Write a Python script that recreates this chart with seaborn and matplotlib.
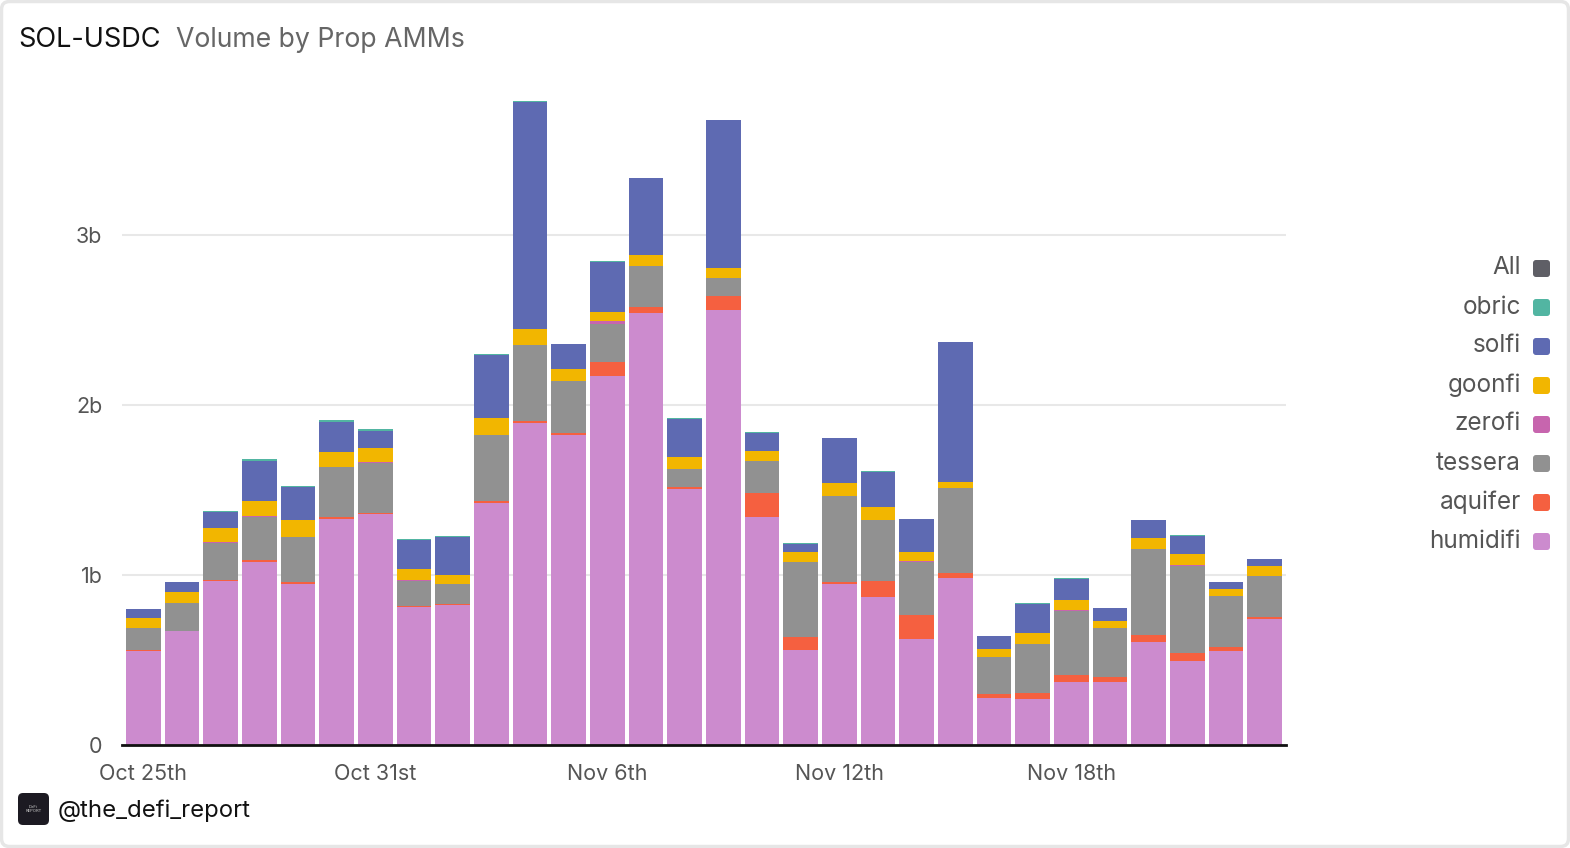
import matplotlib
matplotlib.use("Agg")
import matplotlib.pyplot as plt
import seaborn as sns
import pandas as pd
from matplotlib.patches import FancyBboxPatch

# daily volume, billions USD
days = pd.date_range("2025-10-25", periods=30).strftime("%b %d")

humidifi = [0.554, 0.668, 0.964, 1.079, 0.949, 1.329, 1.357, 0.809, 0.821, 1.423,
            1.893, 1.824, 2.168, 2.541, 1.505, 2.556, 1.344, 0.556, 0.948, 0.871,
            0.622, 0.982, 0.275, 0.269, 0.371, 0.373, 0.604, 0.492, 0.551, 0.739]
aquifer = [0.004, 0.003, 0.008, 0.010, 0.008, 0.013, 0.008, 0.007, 0.006, 0.013,
           0.010, 0.010, 0.087, 0.038, 0.015, 0.087, 0.141, 0.081, 0.009, 0.094,
           0.145, 0.030, 0.025, 0.037, 0.041, 0.029, 0.041, 0.047, 0.024, 0.016]
tessera = [0.131, 0.166, 0.219, 0.255, 0.267, 0.291, 0.296, 0.151, 0.122, 0.385,
           0.449, 0.309, 0.219, 0.240, 0.105, 0.104, 0.186, 0.438, 0.509, 0.359,
           0.309, 0.498, 0.218, 0.290, 0.376, 0.284, 0.506, 0.514, 0.301, 0.237]
zerofi = [0.001, 0.001, 0.001, 0.001, 0.001, 0.001, 0.001, 0.002, 0.001, 0.001,
          0.001, 0.001, 0.018, 0.001, 0.001, 0.001, 0.001, 0.001, 0.001, 0.001,
          0.004, 0.001, 0.001, 0.001, 0.004, 0.001, 0.001, 0.004, 0.001, 0.001]
goonfi = [0.056, 0.063, 0.085, 0.092, 0.097, 0.089, 0.084, 0.066, 0.048, 0.100,
          0.092, 0.066, 0.054, 0.064, 0.066, 0.059, 0.059, 0.062, 0.074, 0.076,
          0.057, 0.035, 0.047, 0.063, 0.063, 0.045, 0.067, 0.068, 0.038, 0.061]
solfi = [0.053, 0.057, 0.096, 0.235, 0.194, 0.176, 0.104, 0.171, 0.227, 0.372,
         1.339, 0.146, 0.296, 0.449, 0.227, 0.867, 0.107, 0.044, 0.263, 0.206,
         0.190, 0.822, 0.074, 0.170, 0.121, 0.071, 0.102, 0.104, 0.043, 0.041]
obric = [0.002, 0.002, 0.003, 0.008, 0.005, 0.013, 0.006, 0.003, 0.003, 0.008,
         0.005, 0.004, 0.004, 0.004, 0.004, 0.003, 0.004, 0.004, 0.004, 0.004,
         0.003, 0.004, 0.002, 0.003, 0.004, 0.002, 0.004, 0.004, 0.002, 0.002]

stack_order = ["humidifi", "aquifer", "tessera", "zerofi", "goonfi", "solfi", "obric"]
colors = {"All": "#5f5f66", "obric": "#52b5a2", "solfi": "#5e6ab2", "goonfi": "#f2b600",
          "zerofi": "#c765ae", "tessera": "#919191", "aquifer": "#f56040",
          "humidifi": "#cc8bce"}
legend_order = ["All", "obric", "solfi", "goonfi", "zerofi", "tessera", "aquifer", "humidifi"]

tick_labels = ["Oct 25th", "Oct 31st", "Nov 6th", "Nov 12th", "Nov 18th"]

df = pd.DataFrame({"day": days, "humidifi": humidifi, "aquifer": aquifer,
                   "tessera": tessera, "zerofi": zerofi, "goonfi": goonfi,
                   "solfi": solfi, "obric": obric})
cum = df[stack_order].cumsum(axis=1)

sns.set_theme(style="white")
plt.rcParams["font.family"] = ["Inter", "DejaVu Sans"]

fig = plt.figure(figsize=(15.7, 8.48), dpi=100)
ax = fig.add_axes([122 / 1570, 1 - 745 / 848, 1164 / 1570, 655 / 848])
ax.set_facecolor("none")

# stacked bars: draw cumulative totals from the top layer down
for name in reversed(stack_order):
    sns.barplot(x=df["day"], y=cum[name], color=colors[name], width=0.9,
                saturation=1, linewidth=0, errorbar=None, ax=ax)

ax.set_xlim(-0.55, 29.55)
ax.set_ylim(0, 3.853)
ax.set_xlabel("")
ax.set_ylabel("")
ax.set_yticks([0, 1, 2, 3], ["0", "1b", "2b", "3b"])
ax.set_xticks(range(0, 30, 6), tick_labels)
ax.yaxis.grid(True, color="#e8e8e8", linewidth=1.5)
ax.set_axisbelow(True)
for side in ["top", "right", "left"]:
    ax.spines[side].set_visible(False)
ax.spines["bottom"].set_color("#111111")
ax.spines["bottom"].set_linewidth(2)
ax.tick_params(axis="y", length=0, pad=14, labelsize=15.5, labelcolor="#555555")
ax.tick_params(axis="x", length=0, pad=14, labelsize=15.5, labelcolor="#555555")

# overlay in pixel coordinates for title, legend, watermark, frame
ov = fig.add_axes([0, 0, 1, 1], zorder=5)
ov.set_xlim(0, 1570)
ov.set_ylim(848, 0)
ov.axis("off")
ov.set_facecolor("none")

ov.add_patch(FancyBboxPatch((1.5, 1.5), 1567, 845, boxstyle="round,pad=0,rounding_size=8",
                            fill=False, edgecolor="#e6e6e6", linewidth=2.5))

ov.text(18, 40, "SOL-USDC", fontsize=19.5, color="#111111", va="center", ha="left")
ov.text(176, 40, "Volume by Prop AMMs", fontsize=19.2, color="#666666", va="center", ha="left")

for i, name in enumerate(legend_order):
    y = 268 + 39 * i
    ov.text(1521, y, name, fontsize=17.5, color="#555555", ha="right", va="center")
    ov.add_patch(FancyBboxPatch((1533, y - 8), 17, 17, boxstyle="round,pad=0,rounding_size=3",
                                facecolor=colors[name], edgecolor="none"))

ov.add_patch(FancyBboxPatch((18, 793), 31, 32, boxstyle="round,pad=0,rounding_size=5",
                            facecolor="#1c1a22", edgecolor="none"))
ov.text(33.5, 809, "DeFi\nREPORT", fontsize=3, color="#cccccc", ha="center", va="center",
        linespacing=0.9)
ov.text(58, 811, "@the_defi_report", fontsize=17.2, color="#111111", ha="left", va="center")

fig.savefig("out.png", dpi=100, facecolor="white")
